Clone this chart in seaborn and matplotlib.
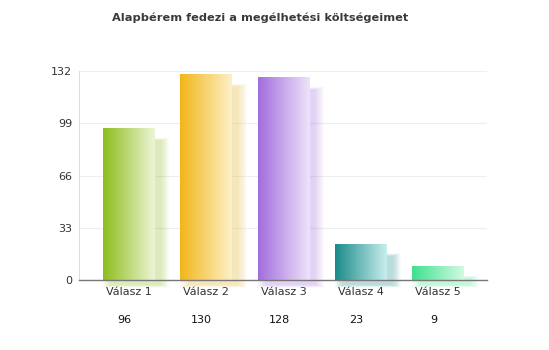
import numpy as np
import pandas as pd
import matplotlib
matplotlib.use("Agg")
import matplotlib.pyplot as plt
import seaborn as sns
from matplotlib.colors import LinearSegmentedColormap

categories = ["Válasz 1", "Válasz 2", "Válasz 3", "Válasz 4", "Válasz 5"]
values = [96, 130, 128, 23, 9]
yticks = [0, 33, 66, 99, 132]
title = "Alapbérem fedezi a megélhetési költségeimet"
dark_colors = ["#8dbd1c", "#f2b619", "#a26ddd", "#1a8a88", "#3fe08c"]
light_colors = ["#edf5d6", "#fdf0c8", "#efe4fa", "#c9eeee", "#d2fae4"]

sns.set_theme(style="white")
plt.rcParams['font.family'] = ['DejaVu Sans']

fig = plt.figure(figsize=(5.49, 3.5), dpi=100)
ax = fig.add_axes([79/549, 1 - 280/350, (487-79)/549, (280-71)/350])

df = pd.DataFrame({"cat": categories, "val": values})
x = np.arange(len(categories))

# soft shadows
n = 10
for i, v in enumerate(values):
    for k in range(n):
        spread = (n - k) * 0.012
        ax.bar(x[i] + 0.09, max(v - 5, 0) + spread * 30, width=0.62 + 2 * spread,
               bottom=-3 - spread * 15, color=light_colors[i] if False else dark_colors[i],
               alpha=0.03, linewidth=0, zorder=1, clip_on=False)

sns.barplot(data=df, x="cat", y="val", ax=ax, width=0.67, color="white",
            linewidth=0, zorder=2, saturation=1)

grad = np.linspace(0, 1, 256).reshape(1, -1)
for i, patch in enumerate(ax.patches[-len(values):]):
    bx, by = patch.get_x(), patch.get_y()
    w, h = patch.get_width(), patch.get_height()
    cmap = LinearSegmentedColormap.from_list(f"g{i}", [dark_colors[i], light_colors[i]])
    im = ax.imshow(grad, cmap=cmap, extent=[bx, bx + w, by, by + h], aspect="auto", zorder=3)
    im.set_clip_path(patch)

ax.set_xlim(-0.647, 4.63)
ax.set_ylim(0, 132)
ax.set_yticks(yticks)
ax.set_yticklabels([str(t) for t in yticks], fontsize=8, color="#333333")
ax.set_xticks(x)
ax.set_xticklabels(categories, fontsize=8, color="#333333")
ax.tick_params(axis="both", length=0, pad=5)
ax.set_xlabel("")
ax.set_ylabel("")
ax.yaxis.grid(True, color="#eeeeee", linewidth=0.8)
ax.set_axisbelow(True)
for s in ["top", "right"]:
    ax.spines[s].set_visible(False)
ax.spines["left"].set_color("#dddddd")
ax.spines["left"].set_linewidth(0.8)
ax.spines["bottom"].set_color("#777777")
ax.spines["bottom"].set_linewidth(1.0)
ax.spines["bottom"].set_zorder(5)

for i, v in enumerate(values):
    ax.text(x[i] - 0.06, -0.19, str(v), transform=ax.get_xaxis_transform(),
            ha="center", va="center", fontsize=8, color="#111111")

fig.text(260/549, 1 - 18/350, title, ha="center", va="center",
         fontsize=8.2, fontweight="bold", color="#3a3a3a")

fig.savefig("out.png", dpi=100, facecolor="white")
